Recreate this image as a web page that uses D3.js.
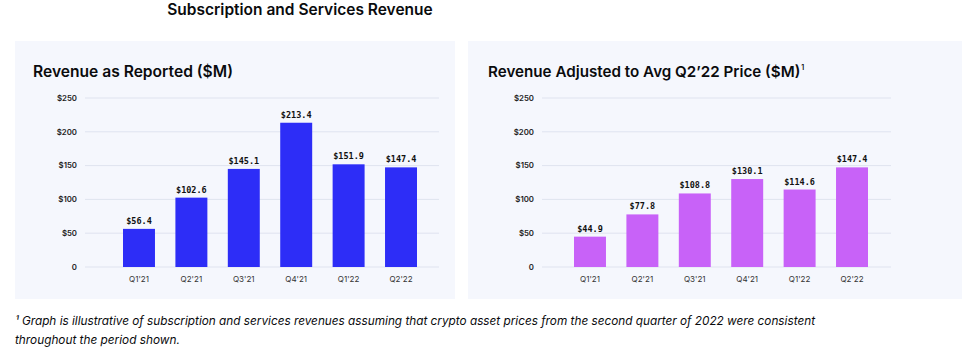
<!DOCTYPE html>
<html lang="en">
<head>
    <meta charset="UTF-8">
    <script src="https://d3js.org/d3.v7.min.js"></script>
    <title>Subscription and Services Revenue</title>
    <style>
        body {
            margin: 0;
            background-color: #ffffff;
        }
        svg {
            display: block;
        }
    </style>
</head>
<body>

    <svg id="chart" width="978" height="349"></svg>

    <script>
        // data
        const quarters = ["Q1'21", "Q2'21", "Q3'21", "Q4'21", "Q1'22", "Q2'22"];
        const reported = [56.4, 102.6, 145.1, 213.4, 151.9, 147.4];
        const adjusted = [44.9, 77.8, 108.8, 130.1, 114.6, 147.4];
        const yTicks = [0, 50, 100, 150, 200, 250];

        const svg = d3.select("#chart");
        const sansFont = "Inter, 'Noto Sans', sans-serif";
        const monoFont = "'DejaVu Sans Mono', 'Liberation Mono', monospace";

        // main title
        svg.append("text")
            .attr("x", 300)
            .attr("y", 15)
            .attr("text-anchor", "middle")
            .attr("font-family", sansFont)
            .attr("font-weight", 600)
            .attr("font-size", 15.5)
            .attr("fill", "#0a0b0d")
            .text("Subscription and Services Revenue");

        // one panel = background + title + axis + bars
        function drawPanel(opts) {
            const g = svg.append("g");

            g.append("rect")
                .attr("x", opts.left)
                .attr("y", 41)
                .attr("width", opts.width)
                .attr("height", 258)
                .attr("fill", "#f5f7fd");

            const title = g.append("text")
                .attr("x", opts.titleX)
                .attr("y", 77)
                .attr("font-family", sansFont)
                .attr("font-weight", 600)
                .attr("font-size", opts.titleSize)
                .attr("fill", "#0a0b0d")
                .text(opts.title);
            if (opts.note) {
                title.append("tspan")
                    .attr("font-size", 7)
                    .attr("dy", -7)
                    .attr("dx", 1)
                    .text(opts.note);
            }

            const y = d3.scaleLinear().domain([0, 250]).range([267, 98]);
            const x = d3.scaleBand()
                .domain(quarters)
                .range([opts.bandStart, opts.bandEnd])
                .paddingInner(0.39)
                .paddingOuter(0);

            // gridlines
            g.selectAll(".grid")
                .data(yTicks)
                .join("line")
                .attr("x1", opts.gridStart)
                .attr("x2", opts.gridEnd)
                .attr("y1", d => y(d))
                .attr("y2", d => y(d))
                .attr("stroke", "#dfe3ef")
                .attr("stroke-width", 1);

            // y labels
            g.selectAll(".ylab")
                .data(yTicks)
                .join("text")
                .attr("x", opts.gridStart - 8)
                .attr("y", d => y(d))
                .attr("dy", "0.35em")
                .attr("text-anchor", "end")
                .attr("font-family", sansFont)
                .attr("font-weight", 600)
                .attr("font-size", 7.8)
                .attr("fill", "#222")
                .text(d => d === 0 ? "0" : "$" + d);

            // bars
            g.selectAll(".bar")
                .data(opts.values)
                .join("rect")
                .attr("x", (d, i) => x(quarters[i]))
                .attr("y", d => y(d))
                .attr("width", x.bandwidth())
                .attr("height", d => y(0) - y(d))
                .attr("fill", opts.color);

            // value labels
            g.selectAll(".val")
                .data(opts.values)
                .join("text")
                .attr("x", (d, i) => x(quarters[i]) + x.bandwidth() / 2)
                .attr("y", d => y(d) - 5)
                .attr("text-anchor", "middle")
                .attr("font-family", monoFont)
                .attr("font-weight", 600)
                .attr("font-size", 8.5)
                .attr("fill", "#111")
                .text(d => "$" + d.toFixed(1));

            // x labels
            g.selectAll(".xlab")
                .data(quarters)
                .join("text")
                .attr("x", d => x(d) + x.bandwidth() / 2)
                .attr("y", 282)
                .attr("text-anchor", "middle")
                .attr("font-family", sansFont)
                .attr("font-size", 8)
                .attr("fill", "#333")
                .text(d => d);
        }

        drawPanel({
            left: 15, width: 440, titleX: 33, titleSize: 15.6,
            title: "Revenue as Reported ($M)",
            gridStart: 85, gridEnd: 439,
            bandStart: 123, bandEnd: 417,
            values: reported, color: "#2d2df7"
        });

        drawPanel({
            left: 468, width: 494, titleX: 488, titleSize: 15.2,
            title: "Revenue Adjusted to Avg Q2\u201922 Price ($M)", note: "1",
            gridStart: 542, gridEnd: 891,
            bandStart: 574, bandEnd: 868,
            values: adjusted, color: "#c862f8"
        });

        // footnote
        const foot = svg.append("text")
            .attr("font-family", sansFont)
            .attr("font-style", "italic")
            .attr("font-size", 11.8)
            .attr("fill", "#0a0b0d");
        foot.append("tspan")
            .attr("x", 15).attr("y", 325)
            .attr("textLength", 800)
            .attr("lengthAdjust", "spacingAndGlyphs")
            .text("\u00b9 Graph is illustrative of subscription and services revenues assuming that crypto asset prices from the second quarter of 2022 were consistent");
        foot.append("tspan")
            .attr("x", 15).attr("y", 344)
            .text("throughout the period shown.");
    </script>

</body>
</html>
